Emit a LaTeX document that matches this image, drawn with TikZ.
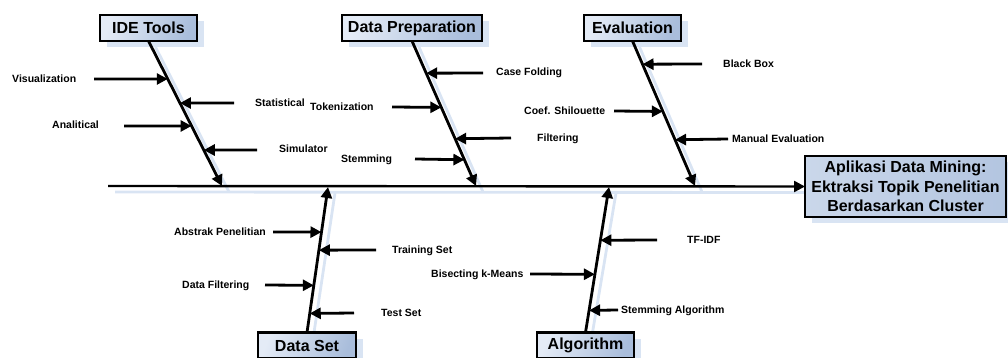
\documentclass[tikz,border=0pt]{standalone}
\usepackage{fontspec}
\setmainfont{Liberation Sans}
\usetikzlibrary{arrows.meta,calc,shadows}
\definecolor{boxlight}{HTML}{E4EBF6}
\definecolor{boxdark}{HTML}{A9BDDB}
\definecolor{mainlight}{HTML}{CAD7EA}
\definecolor{maindark}{HTML}{B3C5E0}
\definecolor{shadowc}{HTML}{D9E4F3}
\pgfdeclarelayer{background}
\pgfsetlayers{background,main}
\begin{document}
\begin{tikzpicture}[x=1pt,y=-1pt,
  titlebox/.style={draw=black, line width=2.6pt, outer sep=0pt, inner sep=0pt,
    left color=boxlight, right color=boxdark, shading angle=70,
    minimum height=26pt, font=\fontsize{16}{19.5}\selectfont\bfseries,
    drop shadow={shadow xshift=7pt, shadow yshift=-6pt, fill=shadowc, opacity=1}},
  mainbox/.style={draw=black, line width=2.6pt, outer sep=0pt, inner sep=0pt,
    left color=mainlight, right color=maindark,
    minimum width=201pt, minimum height=61pt, align=center,
    font=\fontsize{16}{19.5}\selectfont\bfseries,
    drop shadow={shadow xshift=7pt, shadow yshift=-6pt, fill=shadowc, opacity=1}},
  lbl/.style={anchor=base west, inner sep=0pt, font=\fontsize{10.5}{12}\selectfont\bfseries},
  bone/.style={line width=2.8pt, -{Triangle[length=11pt,width=11pt]}},
  spine/.style={line width=2.4pt, -{Triangle[length=11pt,width=11pt]}},
  sub/.style={line width=2.8pt, -{Triangle[length=11pt,width=11pt]}},
  shadowline/.style={line width=2.8pt, shadowc}
]
\useasboundingbox (0,0) rectangle (1008,358);

% boxes
\node[titlebox, minimum width=97pt] (ide) at (148.5,28) {IDE Tools};
\node[titlebox, minimum width=140pt] (prep) at (412,28) {Data Preparation};
\node[titlebox, minimum width=97pt] (eval) at (632.5,28) {Evaluation};
\node[titlebox, minimum width=98pt] (dset) at (307,345.5) {Data Set};
\node[titlebox, minimum width=97pt] (algo) at (585.5,345.5) {Algorithm};
\node[mainbox] (main) at (905.5,186.5) {Aplikasi Data Mining:\\Ektraksi Topik Penelitian\\Berdasarkan Cluster};

% spine and bone ends
\coordinate (s0) at (108,186);
\coordinate (ideE) at (222,186);
\coordinate (prepE) at (476,186);
\coordinate (evalE) at (695,186);
\coordinate (dsetE) at (328,187);
\coordinate (algoE) at (609,187);

% shadows
\begin{pgfonlayer}{background}
\draw[shadowline] ($(s0)+(7,6)$) -- ($(main.west)+(7,6)$);
\draw[shadowline] ($(ide.south)+(7,6)$) -- ($(ideE)+(7,6)$);
\draw[shadowline] ($(prep.south)+(7,6)$) -- ($(prepE)+(7,6)$);
\draw[shadowline] ($(eval.south)+(7,6)$) -- ($(evalE)+(7,6)$);
\draw[shadowline] ($(dset.north)+(7,0)$) -- ($(dsetE)+(7,6)$);
\draw[shadowline] ($(algo.north)+(7,0)$) -- ($(algoE)+(7,6)$);
\end{pgfonlayer}

\draw[spine] (s0) -- (main.west);
\draw[bone] (ide.south) -- (ideE);
\draw[bone] (prep.south) -- (prepE);
\draw[bone] (eval.south) -- (evalE);
\draw[bone] (dset.north) -- (dsetE);
\draw[bone] (algo.north) -- (algoE);

% points on bones
\path (ide.south) -- (ideE)
  coordinate[pos=0.262] (i1) coordinate[pos=0.428] (i2)
  coordinate[pos=0.586] (i3) coordinate[pos=0.752] (i4);
\path (prep.south) -- (prepE)
  coordinate[pos=0.222] (p1) coordinate[pos=0.458] (p2)
  coordinate[pos=0.674] (p3) coordinate[pos=0.819] (p4);
\path (eval.south) -- (evalE)
  coordinate[pos=0.160] (e1) coordinate[pos=0.486] (e2)
  coordinate[pos=0.681] (e3);
\path (dsetE) -- (dset.north)
  coordinate[pos=0.310] (d1) coordinate[pos=0.434] (d2)
  coordinate[pos=0.676] (d3) coordinate[pos=0.869] (d4);
\path (algoE) -- (algo.north)
  coordinate[pos=0.366] (a1) coordinate[pos=0.600] (a2)
  coordinate[pos=0.848] (a3);

% IDE Tools
\coordinate (i1t) at (94,79);   \node[lbl] (i1l) at (12,82.7) {Visualization};
\coordinate (i2t) at (234,103); \node[lbl] (i2l) at (255,106.7) {Statistical};
\coordinate (i3t) at (124,126); \node[lbl] (i3l) at (52,128.7) {Analitical};
\coordinate (i4t) at (257,150); \node[lbl] (i4l) at (279,152.7) {Simulator};
\draw[sub] (i1t) -- (i1);
\draw[sub] (i2t) -- (i2);
\draw[sub] (i3t) -- (i3);
\draw[sub] (i4t) -- (i4);

% Data Preparation
\coordinate (p1t) at (483,73);  \node[lbl] (p1l) at (496,75.7) {Case Folding};
\coordinate (p2t) at (392,107); \node[lbl] (p2l) at (310,110.7) {Tokenization};
\coordinate (p3t) at (511,138); \node[lbl] (p3l) at (537,141.7) {Filtering};
\coordinate (p4t) at (415,159); \node[lbl] (p4l) at (341,162.7) {Stemming};
\draw[sub] (p1t) -- (p1);
\draw[sub] (p2t) -- (p2);
\draw[sub] (p3t) -- (p3);
\draw[sub] (p4t) -- (p4);

% Evaluation
\coordinate (e1t) at (702,64);  \node[lbl] (e1l) at (723,67.7) {Black Box};
\coordinate (e2t) at (614,111); \node[lbl] (e2l) at (524,114.7) {Coef. Shilouette};
\coordinate (e3t) at (728,139); \node[lbl] (e3l) at (732,142.7) {Manual Evaluation};
\draw[sub] (e1t) -- (e1);
\draw[sub] (e2t) -- (e2);
\draw[sub] (e3t) -- (e3);

% Data Set
\coordinate (d1t) at (273,232); \node[lbl] (d1l) at (174,235.7) {Abstrak Penelitian};
\coordinate (d2t) at (376,250); \node[lbl] (d2l) at (392,253.7) {Training Set};
\coordinate (d3t) at (265,285); \node[lbl] (d3l) at (182,288.7) {Data Filtering};
\coordinate (d4t) at (354,313); \node[lbl] (d4l) at (381,316.7) {Test Set};
\draw[sub] (d1t) -- (d1);
\draw[sub] (d2t) -- (d2);
\draw[sub] (d3t) -- (d3);
\draw[sub] (d4t) -- (d4);

% Algorithm
\coordinate (a1t) at (657,240); \node[lbl] (a1l) at (687,243.7) {TF-IDF};
\coordinate (a2t) at (530,274); \node[lbl] (a2l) at (431,277.7) {Bisecting k-Means};
\coordinate (a3t) at (618,310); \node[lbl] (a3l) at (621,313.7) {Stemming Algorithm};
\draw[sub] (a1t) -- (a1);
\draw[sub] (a2t) -- (a2);
\draw[sub] (a3t) -- (a3);
\end{tikzpicture}
\end{document}
